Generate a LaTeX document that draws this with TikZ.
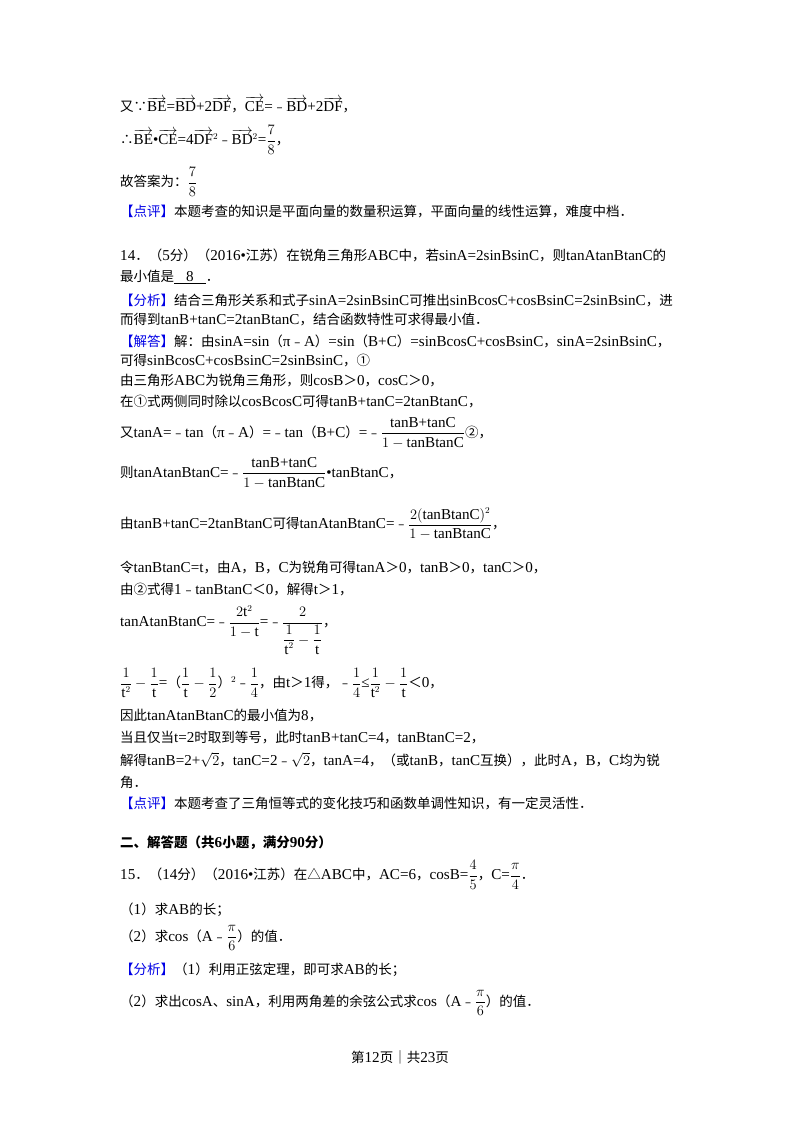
\documentclass[tikz,border=0pt]{standalone}
\usepackage{amsmath}
\usepackage{fontspec}
\setmainfont[Scale=1.12]{Liberation Serif}
\newfontfamily\cjk{Noto Sans CJK SC}
\XeTeXinterchartokenstate=1
\newXeTeXintercharclass\CJKc
\newcount\cc
\def\setrange#1#2{\cc=#1 \loop\XeTeXcharclass\cc=\CJKc \ifnum\cc<#2 \advance\cc 1 \repeat}
\setrange{"3000}{"303F}
\setrange{"4E00}{"9FFF}
\setrange{"FF00}{"FFEF}
\setrange{"FE30}{"FE6F}
\setrange{"2460}{"2473}
\setrange{"2234}{"2235}
\XeTeXcharclass"25B3=\CJKc
\XeTeXinterchartoks 0 \CJKc = {\begingroup\cjk}
\XeTeXinterchartoks 4095 \CJKc = {\begingroup\cjk}
\XeTeXinterchartoks \CJKc 0 = {\endgroup}
\XeTeXinterchartoks \CJKc 4095 = {\endgroup}
\definecolor{hl}{RGB}{0,0,230}
\newcommand\hb[1]{\textcolor{hl}{#1}}
\newcommand\vv[1]{\overrightarrow{\text{#1}}}
\newcommand\tx[1]{\text{#1}}
\begin{document}
\begin{tikzpicture}[x=1pt,y=-1pt,txt/.style={anchor=west,inner sep=0pt,font=\fontsize{13.5}{16}\selectfont}]
\useasboundingbox[fill=white] (0,0) rectangle (800,1132);
\node[txt] (l1) at (120,105) {又∵$\vv{BE}$=$\vv{BD}$+2$\vv{DF}$，$\vv{CE}$=﹣$\vv{BD}$+2$\vv{DF}$，};
\node[txt] (l2) at (120,140) {∴$\vv{BE}$•$\vv{CE}$=4$\vv{DF}^{2}$﹣$\vv{BD}^{2}$=$\dfrac{7}{8}$，};
\node[txt] (l3) at (120,182) {故答案为：$\dfrac{7}{8}$};
\node[txt] (l4) at (120,212) {\hb{【点评】}本题考查的知识是平面向量的数量积运算，平面向量的线性运算，难度中档．};
\node[txt] (l5) at (120,255) {14．（5分）（2016•江苏）在锐角三角形ABC中，若sinA=2sinBsinC，则tanAtanBtanC的};
\node[txt] (l6) at (120,277) {最小值是\underline{\hspace{12pt}8\hspace{12pt}}．};
\node[txt] (l7) at (120,301) {\hb{【分析】}结合三角形关系和式子sinA=2sinBsinC可推出sinBcosC+cosBsinC=2sinBsinC，进};
\node[txt] (l8) at (120,320) {而得到tanB+tanC=2tanBtanC，结合函数特性可求得最小值．};
\node[txt] (l9) at (120,341) {\hb{【解答】}解：由sinA=sin（π﹣A）=sin（B+C）=sinBcosC+cosBsinC，sinA=2sinBsinC，};
\node[txt] (l10) at (120,361) {可得sinBcosC+cosBsinC=2sinBsinC，①};
\node[txt] (l11) at (120,381) {由三角形ABC为锐角三角形，则cosB＞0，cosC＞0，};
\node[txt] (l12) at (120,402) {在①式两侧同时除以cosBcosC可得tanB+tanC=2tanBtanC，};
\node[txt] (l13) at (120,433) {又tanA=﹣tan（π﹣A）=﹣tan（B+C）=﹣$\dfrac{\tx{tanB+tanC}}{1-\tx{tanBtanC}}$②，};
\node[txt] (l14) at (120,473) {则tanAtanBtanC=﹣$\dfrac{\tx{tanB+tanC}}{1-\tx{tanBtanC}}$•tanBtanC，};
\node[txt] (l15) at (120,524) {由tanB+tanC=2tanBtanC可得tanAtanBtanC=﹣$\dfrac{2(\tx{tanBtanC})^{2}}{1-\tx{tanBtanC}}$，};
\node[txt] (l16) at (120,568) {令tanBtanC=t，由A，B，C为锐角可得tanA＞0，tanB＞0，tanC＞0，};
\node[txt] (l17) at (120,590) {由②式得1﹣tanBtanC＜0，解得t＞1，};
\node[txt] (l18) at (120,630) {tanAtanBtanC=﹣$\dfrac{2\tx{t}^{2}}{1-\tx{t}}$=﹣$\dfrac{2}{\dfrac{1}{\tx{t}^{2}}-\dfrac{1}{\tx{t}}}$，};
\node[txt] (l19) at (120,683) {$\dfrac{1}{\tx{t}^{2}}-\dfrac{1}{\tx{t}}$=（$\dfrac{1}{\tx{t}}-\dfrac{1}{2}$）$^{2}$﹣$\dfrac{1}{4}$，由t＞1得，﹣$\dfrac{1}{4}$≤$\dfrac{1}{\tx{t}^{2}}-\dfrac{1}{\tx{t}}$＜0，};
\node[txt] (l20) at (120,716) {因此tanAtanBtanC的最小值为8，};
\node[txt] (l21) at (120,738) {当且仅当t=2时取到等号，此时tanB+tanC=4，tanBtanC=2，};
\node[txt] (l22) at (120,760) {解得tanB=2+$\sqrt{2}$，tanC=2﹣$\sqrt{2}$，tanA=4，（或tanB，tanC互换），此时A，B，C均为锐};
\node[txt] (l23) at (120,782) {角．};
\node[txt] (l24) at (120,803) {\hb{【点评】}本题考查了三角恒等式的变化技巧和函数单调性知识，有一定灵活性．};
\node[txt,font=\fontsize{13.5}{16}\selectfont\bfseries] (l25) at (120,843) {\textbf{二、解答题（共6小题，满分90分）}};
\node[txt] (l26) at (120,875) {15．（14分）（2016•江苏）在△ABC中，AC=6，cosB=$\dfrac{4}{5}$，C=$\dfrac{\pi}{4}$．};
\node[txt] (l27) at (120,910) {（1）求AB的长；};
\node[txt] (l28) at (120,938) {（2）求cos（A﹣$\dfrac{\pi}{6}$）的值．};
\node[txt] (l29) at (120,970) {\hb{【分析】}（1）利用正弦定理，即可求AB的长；};
\node[txt] (l30) at (120,1003) {（2）求出cosA、sinA，利用两角差的余弦公式求cos（A﹣$\dfrac{\pi}{6}$）的值．};
\node[anchor=center,inner sep=0pt,font=\fontsize{13.5}{16}\selectfont] (foot) at (400,1057) {第12页｜共23页};
\end{tikzpicture}
\end{document}
